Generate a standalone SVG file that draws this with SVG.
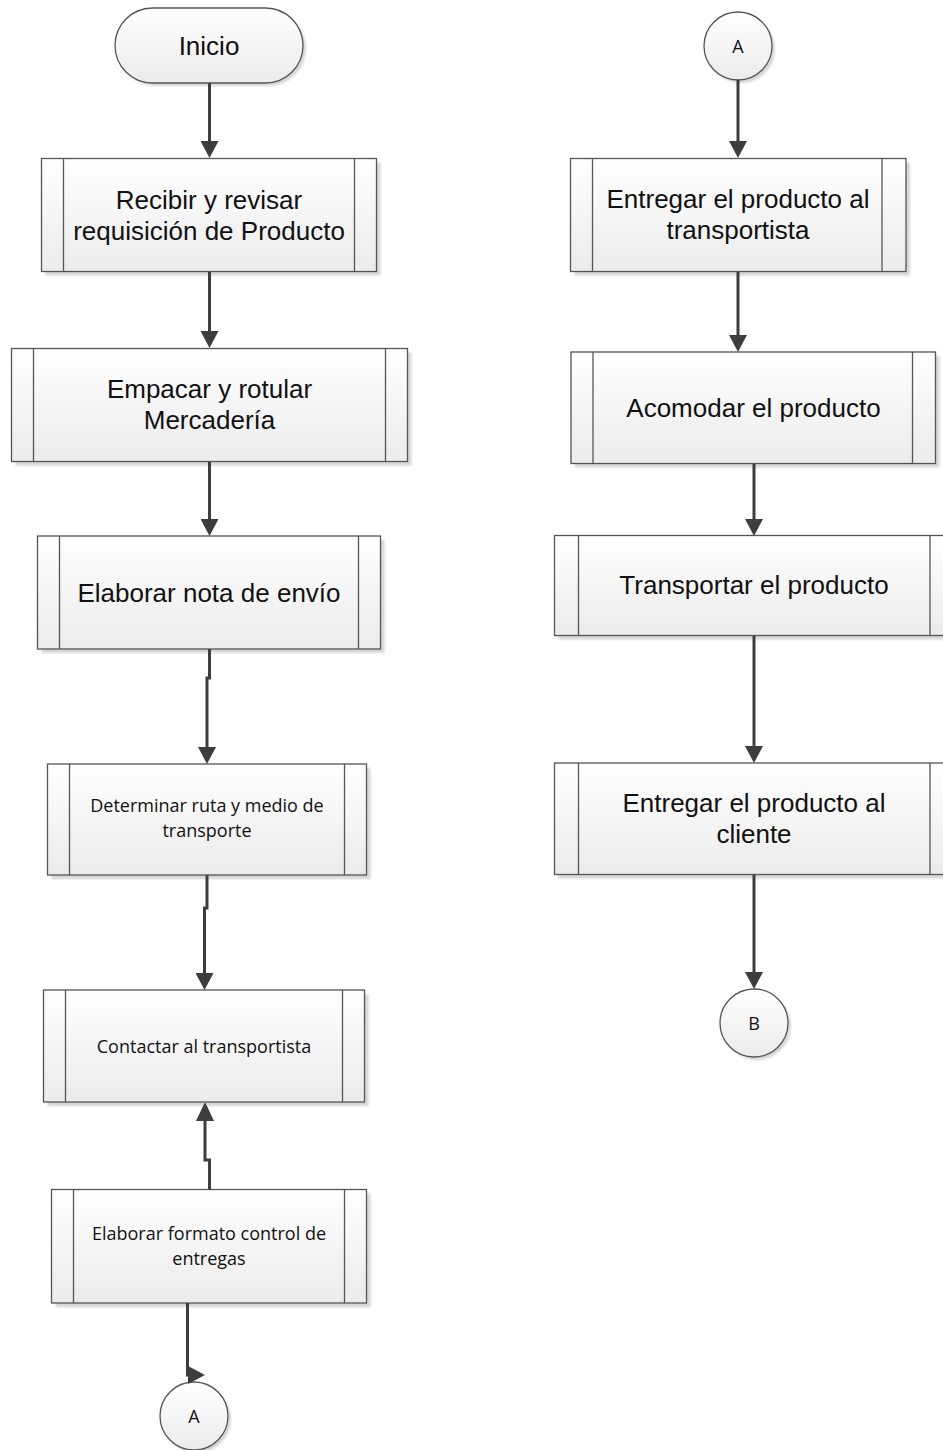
<svg xmlns="http://www.w3.org/2000/svg" width="943" height="1450" viewBox="0 0 943 1450">
  <defs>
    <linearGradient id="fillGrad" x1="0" y1="0" x2="0" y2="1">
      <stop offset="0" stop-color="#ffffff"/>
      <stop offset="1" stop-color="#ebebeb"/>
    </linearGradient>
    <filter id="soft" x="-10%" y="-10%" width="120%" height="120%">
      <feGaussianBlur stdDeviation="1"/>
    </filter>
    <marker id="arrow" markerUnits="userSpaceOnUse" markerWidth="18" markerHeight="18" refX="1" refY="9" orient="auto">
      <path d="M0,0 L17,9 L0,18 z" fill="#3d3d3d"/>
    </marker>
    <marker id="arrowUp" markerUnits="userSpaceOnUse" markerWidth="18" markerHeight="20" refX="1" refY="9" orient="auto">
      <path d="M0,0 L19,9 L0,18 z" fill="#3d3d3d"/>
    </marker>
  </defs>
  <style>
    .shadow { fill: #d6d6d6; filter: url(#soft); }
    .shape { fill: url(#fillGrad); stroke: #555555; stroke-width: 1.3; }
    .inner { stroke: #555555; stroke-width: 1.3; }
    .big { font-family: "Liberation Sans", Arial, sans-serif; font-size: 26px; fill: #111111; text-anchor: middle; }
    .small { font-family: "Open Sans", "Noto Sans", sans-serif; font-size: 18px; fill: #111111; text-anchor: middle; }
    .conn { fill: none; stroke: #3d3d3d; stroke-width: 3; }
  </style>

  <rect width="943" height="1450" fill="#ffffff"/>

  <!-- left column -->
  <g id="inicio">
    <rect class="shadow" x="118" y="11" width="188" height="75" rx="37.5"/>
    <rect class="shape" x="115" y="8" width="188" height="75" rx="37.5"/>
    <text class="big" x="209" y="55">Inicio</text>
  </g>

  <g id="recibir">
    <rect class="shadow" x="45.5" y="162.5" width="335" height="113"/>
    <rect class="shape" x="41.5" y="158.5" width="335" height="113"/>
    <line class="inner" x1="63.5" y1="158.5" x2="63.5" y2="271.5"/>
    <line class="inner" x1="354.5" y1="158.5" x2="354.5" y2="271.5"/>
    <text class="big" x="209" y="209">Recibir y revisar</text>
    <text class="big" x="209" y="240">requisición de Producto</text>
  </g>

  <g id="empacar">
    <rect class="shadow" x="15.5" y="352.5" width="396" height="113"/>
    <rect class="shape" x="11.5" y="348.5" width="396" height="113"/>
    <line class="inner" x1="33.5" y1="348.5" x2="33.5" y2="461.5"/>
    <line class="inner" x1="385.5" y1="348.5" x2="385.5" y2="461.5"/>
    <text class="big" x="209.5" y="398">Empacar y rotular</text>
    <text class="big" x="209.5" y="429">Mercadería</text>
  </g>

  <g id="nota-envio">
    <rect class="shadow" x="41.5" y="540" width="343" height="113"/>
    <rect class="shape" x="37.5" y="536" width="343" height="113"/>
    <line class="inner" x1="59.5" y1="536" x2="59.5" y2="649"/>
    <line class="inner" x1="358.5" y1="536" x2="358.5" y2="649"/>
    <text class="big" x="209" y="602">Elaborar nota de envío</text>
  </g>

  <g id="ruta">
    <rect class="shadow" x="51.5" y="768" width="319" height="111"/>
    <rect class="shape" x="47.5" y="764" width="319" height="111"/>
    <line class="inner" x1="69.5" y1="764" x2="69.5" y2="875"/>
    <line class="inner" x1="344.5" y1="764" x2="344.5" y2="875"/>
    <text class="small" x="207" y="812">Determinar ruta y medio de</text>
    <text class="small" x="207" y="837">transporte</text>
  </g>

  <g id="contactar">
    <rect class="shadow" x="47.5" y="994" width="321" height="112"/>
    <rect class="shape" x="43.5" y="990" width="321" height="112"/>
    <line class="inner" x1="65.5" y1="990" x2="65.5" y2="1102"/>
    <line class="inner" x1="342.5" y1="990" x2="342.5" y2="1102"/>
    <text class="small" x="204" y="1053">Contactar al transportista</text>
  </g>

  <g id="formato">
    <rect class="shadow" x="55.5" y="1193.5" width="315" height="113.5"/>
    <rect class="shape" x="51.5" y="1189.5" width="315" height="113.5"/>
    <line class="inner" x1="73.5" y1="1189.5" x2="73.5" y2="1303"/>
    <line class="inner" x1="344.5" y1="1189.5" x2="344.5" y2="1303"/>
    <text class="small" x="209" y="1240">Elaborar formato control de</text>
    <text class="small" x="209" y="1265">entregas</text>
  </g>

  <g id="conector-a-salida">
    <circle class="shadow" cx="197" cy="1419" r="34"/>
    <circle class="shape" cx="194" cy="1416" r="34"/>
    <text class="small" x="194" y="1423">A</text>
  </g>

  <!-- right column -->
  <g id="conector-a-entrada">
    <circle class="shadow" cx="741" cy="49" r="34"/>
    <circle class="shape" cx="738" cy="46" r="34"/>
    <text class="small" x="738" y="53">A</text>
  </g>

  <g id="entregar-transportista">
    <rect class="shadow" x="574.5" y="162.5" width="335.5" height="113"/>
    <rect class="shape" x="570.5" y="158.5" width="335.5" height="113"/>
    <line class="inner" x1="592.5" y1="158.5" x2="592.5" y2="271.5"/>
    <line class="inner" x1="882" y1="158.5" x2="882" y2="271.5"/>
    <text class="big" x="738" y="208">Entregar el producto al</text>
    <text class="big" x="738" y="239">transportista</text>
  </g>

  <g id="acomodar">
    <rect class="shadow" x="575" y="356" width="364.5" height="111.5"/>
    <rect class="shape" x="571" y="352" width="364.5" height="111.5"/>
    <line class="inner" x1="593" y1="352" x2="593" y2="463.5"/>
    <line class="inner" x1="912.5" y1="352" x2="912.5" y2="463.5"/>
    <text class="big" x="753.5" y="417">Acomodar el producto</text>
  </g>

  <g id="transportar">
    <rect class="shadow" x="558.5" y="539.5" width="399" height="100"/>
    <rect class="shape" x="554.5" y="535.5" width="399" height="100"/>
    <line class="inner" x1="578.5" y1="535.5" x2="578.5" y2="635.5"/>
    <line class="inner" x1="930" y1="535.5" x2="930" y2="635.5"/>
    <text class="big" x="754" y="594">Transportar el producto</text>
  </g>

  <g id="entregar-cliente">
    <rect class="shadow" x="558.5" y="767" width="399" height="111.5"/>
    <rect class="shape" x="554.5" y="763" width="399" height="111.5"/>
    <line class="inner" x1="578.5" y1="763" x2="578.5" y2="874.5"/>
    <line class="inner" x1="930" y1="763" x2="930" y2="874.5"/>
    <text class="big" x="754" y="812">Entregar el producto al</text>
    <text class="big" x="754" y="843">cliente</text>
  </g>

  <g id="conector-b">
    <circle class="shadow" cx="757" cy="1026" r="34"/>
    <circle class="shape" cx="754" cy="1023" r="34"/>
    <text class="small" x="754" y="1030">B</text>
  </g>

  <!-- connectors -->
  <g id="connectors">
    <path class="conn" d="M209.5,83 V142" marker-end="url(#arrow)"/>
    <path class="conn" d="M209.5,272 V332" marker-end="url(#arrow)"/>
    <path class="conn" d="M209.5,462 V520" marker-end="url(#arrow)"/>
    <path class="conn" d="M209.5,649 V678 H207 V748" marker-end="url(#arrow)"/>
    <path class="conn" d="M207,875 V908 H204.5 V974" marker-end="url(#arrow)"/>
    <path class="conn" d="M209.5,1189.5 V1160 H205 V1120" marker-end="url(#arrowUp)"/>
    <path class="conn" d="M187.5,1303 V1375 H189" marker-end="url(#arrow)"/>
    <path class="conn" d="M738,80 V142" marker-end="url(#arrow)"/>
    <path class="conn" d="M738,272 V336" marker-end="url(#arrow)"/>
    <path class="conn" d="M754,464 V520" marker-end="url(#arrow)"/>
    <path class="conn" d="M754,636 V747" marker-end="url(#arrow)"/>
    <path class="conn" d="M754,875 V973" marker-end="url(#arrow)"/>
  </g>
</svg>
